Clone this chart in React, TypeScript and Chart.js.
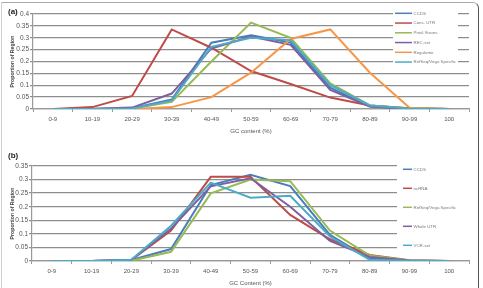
import { useEffect, useRef } from "react";
import { Chart, registerables } from "chart.js";

Chart.register(...registerables);

const FONT = "'Liberation Sans', Arial, sans-serif";

// GC-content bins shared by both panels
const gcBins = ["0-9", "10-19", "20-29", "30-39", "40-49", "50-59", "60-69", "70-79", "80-89", "90-99", "100"];

// Panel (a)
const ccdsA = [0, 0, 0.003, 0.04, 0.279, 0.31, 0.28, 0.09, 0.01, 0.001, 0];
const consUtrA = [0, 0.008, 0.055, 0.335, 0.258, 0.16, 0.105, 0.048, 0.015, 0.003, 0];
const predExonsA = [0, 0, 0.002, 0.03, 0.2, 0.364, 0.3, 0.108, 0.015, 0.002, 0];
const recSetA = [0, 0.001, 0.006, 0.065, 0.255, 0.305, 0.27, 0.08, 0.01, 0.002, 0];
const regulomeA = [0, 0, 0, 0.008, 0.05, 0.153, 0.295, 0.335, 0.153, 0.005, 0];
const refSeqVegaA = [0, 0, 0.002, 0.035, 0.262, 0.3, 0.29, 0.1, 0.015, 0.002, 0];

// Panel (b)
const ccdsB = [0, 0, 0.004, 0.044, 0.28, 0.318, 0.276, 0.096, 0.008, 0.001, 0];
const ncRnaB = [0, 0, 0.004, 0.112, 0.31, 0.31, 0.17, 0.08, 0.022, 0.003, 0];
const refSeqVegaB = [0, 0, 0.001, 0.034, 0.249, 0.3, 0.294, 0.112, 0.02, 0.002, 0];
const wholeUtrB = [0, 0, 0.004, 0.12, 0.275, 0.305, 0.2, 0.074, 0.015, 0.002, 0];
const vcrSetB = [0, 0, 0.005, 0.13, 0.289, 0.233, 0.24, 0.09, 0.005, 0.001, 0];

const BLUE = "rgb(74,126,187)";
const RED = "rgb(190,75,72)";
const GREEN = "rgb(152,185,84)";
const PURPLE = "rgb(125,96,160)";
const ORANGE = "rgb(247,150,70)";
const TEAL = "rgb(75,172,198)";

type Series = { label: string; color: string; data: number[] };

const seriesA: Series[] = [
  { label: "CCDS", color: BLUE, data: ccdsA },
  { label: "Cons. UTR", color: RED, data: consUtrA },
  { label: "Pred. Exons", color: GREEN, data: predExonsA },
  { label: "REC-set", color: PURPLE, data: recSetA },
  { label: "Regulome", color: ORANGE, data: regulomeA },
  { label: "RefSeq/Vega Specific", color: TEAL, data: refSeqVegaA },
];

const seriesB: Series[] = [
  { label: "CCDS", color: BLUE, data: ccdsB },
  { label: "ncRNA", color: RED, data: ncRnaB },
  { label: "RefSeq/Vega Specific", color: GREEN, data: refSeqVegaB },
  { label: "Whole UTR", color: PURPLE, data: wholeUtrB },
  { label: "VCR-set", color: TEAL, data: vcrSetB },
];

type LegendBox = {
  x: number; y: number; w: number; h: number;
  lineX0: number; lineX1: number; rowY0: number; rowStep: number;
};

// Legend drawn inside the plot on a white patch, under the data lines
function insetLegend(items: Series[], box: LegendBox) {
  return {
    id: "insetLegend",
    beforeDatasetsDraw(chart: Chart) {
      const ctx = chart.ctx;
      ctx.save();
      ctx.fillStyle = "#fff";
      ctx.fillRect(box.x, box.y, box.w, box.h);
      ctx.font = `4.4px ${FONT}`;
      ctx.textBaseline = "middle";
      items.forEach((s, i) => {
        const y = box.rowY0 + i * box.rowStep;
        ctx.strokeStyle = s.color;
        ctx.lineWidth = 1.5;
        ctx.beginPath();
        ctx.moveTo(box.lineX0, y);
        ctx.lineTo(box.lineX1, y);
        ctx.stroke();
        ctx.fillStyle = "#777";
        ctx.fillText(s.label, box.lineX1 + 1.5, y);
      });
      ctx.restore();
    },
  };
}

type PanelProps = {
  top: number;
  height: number;
  series: Series[];
  yMax: number;
  xTitle: string;
  xTitlePad: number;
  axisWidth: number;
  plotTop: number;
  xAxisHeight: number;
  legend: LegendBox;
};

function Panel(p: PanelProps) {
  const ref = useRef<HTMLCanvasElement | null>(null);

  useEffect(() => {
    if (!ref.current) return;
    const n = p.series.length;
    const chart = new Chart(ref.current, {
      type: "line",
      data: {
        labels: gcBins,
        datasets: p.series.map((s, i) => ({
          label: s.label,
          data: s.data,
          borderColor: s.color,
          backgroundColor: s.color,
          borderWidth: 2,
          pointRadius: 0,
          tension: 0,
          order: n - i,
        })),
      },
      options: {
        animation: false,
        responsive: false,
        maintainAspectRatio: false,
        layout: { padding: { left: 0, right: 14, top: p.plotTop, bottom: 0 } },
        plugins: { legend: { display: false }, tooltip: { enabled: false } },
        scales: {
          x: {
            type: "category",
            offset: true,
            afterFit: (s: any) => { s.height = p.xAxisHeight; },
            grid: {
              offset: true,
              drawOnChartArea: false,
              drawTicks: true,
              tickLength: 3,
              color: "#999",
              lineWidth: 1,
            },
            border: { display: true, color: "#999", width: 1.2 },
            ticks: {
              font: { family: FONT, size: 6 },
              color: "#555",
              padding: 4,
              maxRotation: 0,
              autoSkip: false,
            },
            title: {
              display: true,
              text: p.xTitle,
              font: { family: FONT, size: 6 },
              color: "#555",
              padding: { top: 0, bottom: p.xTitlePad },
            },
          },
          y: {
            min: 0,
            max: p.yMax,
            afterFit: (s: any) => { s.width = p.axisWidth; },
            grid: {
              color: "#8e8e8e",
              lineWidth: 1.3,
              drawTicks: true,
              tickLength: 3,
            },
            border: { display: true, color: "#999", width: 1.2 },
            ticks: {
              stepSize: 0.05,
              font: { family: FONT, size: 6.5 },
              color: "#555",
              padding: 1,
              callback: (v: any) => String(Math.round(Number(v) * 100) / 100),
            },
            title: {
              display: true,
              text: "Proportion of Region",
              font: { family: FONT, size: 5.2, weight: "bold" },
              color: "#444",
              padding: { top: 9, bottom: 0 },
            },
          },
        },
      },
      plugins: [insetLegend(p.series, p.legend)],
    } as any);
    return () => chart.destroy();
  }, []);

  return (
    <canvas
      ref={ref}
      width={483}
      height={p.height}
      style={{ position: "absolute", left: 0, top: p.top, width: 483, height: p.height, display: "block" }}
    />
  );
}

export default function App() {
  return (
    <div
      style={{
        position: "fixed",
        left: 0,
        top: 0,
        width: 483,
        height: 288,
        background: "#fff",
        overflow: "hidden",
        fontFamily: FONT,
      }}
    >
      <div
        style={{
          position: "absolute",
          left: 1,
          top: 2,
          width: 478,
          height: 330,
          borderStyle: "solid",
          borderWidth: 1,
          borderColor: "#aaa #555 #aaa #d0d0d0",
          borderTopRightRadius: 6,
          boxSizing: "border-box",
        }}
      />
      <Panel
        top={0}
        height={140}
        series={seriesA}
        yMax={0.4}
        xTitle="GC content (%)"
        xTitlePad={5}
        axisWidth={33}
        plotTop={14}
        xAxisHeight={31}
        legend={{ x: 393, y: 8, w: 65, h: 59, lineX0: 395, lineX1: 412, rowY0: 13.3, rowStep: 9.75 }}
      />
      <Panel
        top={140}
        height={148}
        series={seriesB}
        yMax={0.35}
        xTitle="GC Content (%)"
        xTitlePad={1.5}
        axisWidth={32}
        plotTop={26}
        xAxisHeight={27}
        legend={{ x: 397, y: 22, w: 75, h: 95, lineX0: 403, lineX1: 412, rowY0: 29.3, rowStep: 19 }}
      />
      <div style={{ position: "absolute", left: 8, top: 7, fontSize: 8, fontWeight: "bold", color: "#222", lineHeight: "10px" }}>(a)</div>
      <div style={{ position: "absolute", left: 8, top: 151, fontSize: 8, fontWeight: "bold", color: "#222", lineHeight: "10px" }}>(b)</div>
    </div>
  );
}
